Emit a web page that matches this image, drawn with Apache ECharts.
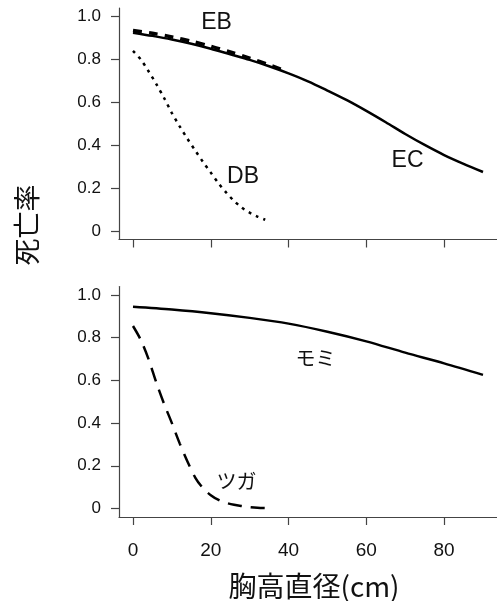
<!DOCTYPE html>
<html>
<head>
<meta charset="utf-8">
<script src="https://cdn.jsdelivr.net/npm/echarts@6/dist/echarts.min.js"></script>
<style>
  html, body { margin: 0; padding: 0; background: #fff; }
  #chart { width: 497px; height: 601px; }
</style>
</head>
<body>
<div id="chart"></div>
<script>
// 胸高直径 (cm) と死亡率
const ecX = [0, 5, 10, 15, 20, 25, 30, 35, 40, 45, 50, 55, 60, 65, 70, 75, 80, 85, 90]
const ecY = [0.925, 0.91, 0.893, 0.873, 0.85, 0.824, 0.798, 0.768, 0.735, 0.698, 0.655, 0.61, 0.56, 0.507, 0.452, 0.401, 0.354, 0.313, 0.275]

const ebX = [0, 5, 10, 15, 20, 25, 30, 35, 38]
const ebY = [0.935, 0.922, 0.905, 0.885, 0.862, 0.835, 0.806, 0.775, 0.755]

const dbX = [0, 2, 4, 6, 8, 10, 12, 14, 16, 18, 20, 22, 24, 26, 28, 30, 32, 34]
const dbY = [0.84, 0.8, 0.745, 0.685, 0.62, 0.55, 0.488, 0.43, 0.375, 0.322, 0.272, 0.222, 0.178, 0.14, 0.108, 0.085, 0.067, 0.052]

const momiX = [0, 10, 20, 30, 40, 50, 60, 70, 80, 90]
const momiY = [0.945, 0.932, 0.915, 0.893, 0.866, 0.828, 0.783, 0.73, 0.68, 0.626]

const tsugaX = [0, 2, 4, 6, 8, 10, 12, 14, 16, 18, 20, 22, 24, 26, 28, 30, 32, 35]
const tsugaY = [0.855, 0.79, 0.7, 0.59, 0.49, 0.4, 0.305, 0.22, 0.145, 0.095, 0.062, 0.04, 0.026, 0.017, 0.011, 0.006, 0.003, 0.001]

const xTicks = [0, 20, 40, 60, 80]
const yTicks = [0, 0.2, 0.4, 0.6, 0.8, 1.0]

const zip = (xs, ys) => xs.map((x, i) => [x, ys[i]])

const axisColor = '#444'
const latin = '"Liberation Sans", Arial, sans-serif'
const cjk = '"Noto Sans CJK JP", sans-serif'

const makeX = (gridIndex, showLabels) => ({
    type: 'value',
    gridIndex,
    min: -3.6,
    max: 93.6,
    splitLine: { show: false },
    axisLine: { show: true, onZero: false, lineStyle: { color: axisColor, width: 1.2 } },
    axisTick: { show: true, length: 8, customValues: xTicks, lineStyle: { color: axisColor, width: 1.2 } },
    axisLabel: {
        show: showLabels,
        customValues: xTicks,
        margin: 24,
        color: '#111',
        fontSize: 19,
        fontFamily: latin
    }
})

const makeY = (gridIndex) => ({
    type: 'value',
    gridIndex,
    min: -0.04,
    max: 1.04,
    splitLine: { show: false },
    axisLine: { show: true, onZero: false, lineStyle: { color: axisColor, width: 1.2 } },
    axisTick: { show: true, length: 8, customValues: yTicks, lineStyle: { color: axisColor, width: 1.2 } },
    axisLabel: {
        customValues: yTicks,
        margin: 18,
        color: '#111',
        fontSize: 17,
        fontFamily: latin,
        formatter: (v) => v === 0 ? '0' : v.toFixed(1)
    }
})

const tag = (name, coord, fontSize, fontFamily) => ({
    symbol: 'circle',
    symbolSize: 1,
    itemStyle: { color: 'rgba(0,0,0,0)' },
    label: { show: true, position: 'inside', formatter: '{b}', color: '#111', fontSize, fontFamily },
    data: [{ name, coord }]
})

const line = (data, xi, width, dash, mark) => ({
    type: 'line',
    xAxisIndex: xi,
    yAxisIndex: xi,
    data,
    showSymbol: false,
    smooth: 0.3,
    lineStyle: { color: '#000', width, type: dash },
    markPoint: mark
})

const option = {
    animation: false,
    grid: [
        { left: 119, width: 379, top: 8, height: 231.5 },
        { left: 119, width: 379, top: 286.5, height: 230.5 }
    ],
    xAxis: [makeX(0, false), makeX(1, true)],
    yAxis: [makeY(0), makeY(1)],
    graphic: [
        {
            type: 'text',
            x: 27, y: 225,
            rotation: Math.PI / 2,
            style: { text: '死亡率', font: '27px ' + cjk, fill: '#111', textAlign: 'center', textVerticalAlign: 'middle' }
        },
        {
            type: 'text',
            x: 314, y: 586,
            style: { text: '胸高直径(cm)', font: '28px ' + cjk, fill: '#111', textAlign: 'center', textVerticalAlign: 'middle' }
        }
    ],
    series: [
        line(zip(dbX, dbY), 0, 2.5, [3, 5], tag('DB', [28.3, 0.251], 23, latin)),
        line(zip(ebX, ebY), 0, 3.4, [9, 7], tag('EB', [21.5, 0.972], 23, latin)),
        line(zip(ecX, ecY), 0, 2.5, 'solid', tag('EC', [70.6, 0.33], 23, latin)),
        line(zip(momiX, momiY), 1, 2.5, 'solid', tag('モミ', [46.9, 0.705], 20, cjk)),
        line(zip(tsugaX, tsugaY), 1, 2.5, [14, 9], tag('ツガ', [26.6, 0.126], 20, cjk))
    ]
}

const chart = echarts.init(document.getElementById('chart'))
chart.setOption(option)
window.addEventListener('resize', () => chart.resize())
</script>
</body>
</html>
